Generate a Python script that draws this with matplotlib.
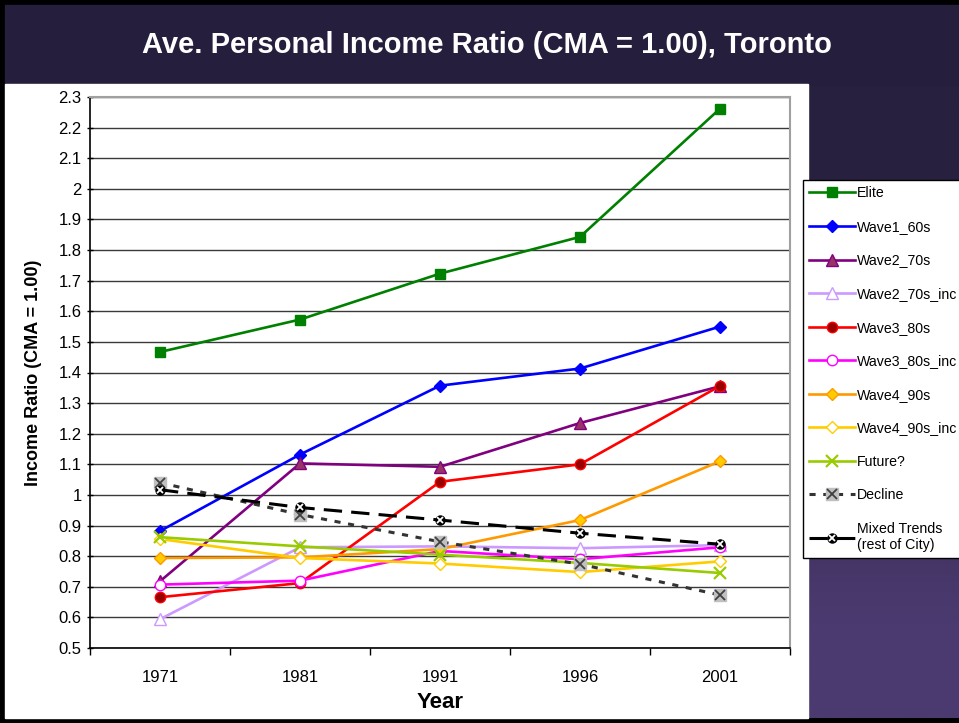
import numpy as np
import matplotlib
matplotlib.use("Agg")
import matplotlib.pyplot as plt
from matplotlib.patches import Rectangle
from matplotlib.legend_handler import HandlerTuple

plt.rcParams['font.family'] = ['Liberation Sans', 'DejaVu Sans']

# data
years = ['1971', '1981', '1991', '1996', '2001']
elite = [1.467, 1.573, 1.723, 1.843, 2.262]
wave1_60s = [0.882, 1.132, 1.357, 1.413, 1.550]
wave2_70s = [0.718, 1.103, 1.092, 1.235, 1.355]
wave2_70s_inc = [0.594, 0.829, 0.832, 0.826, 0.836]
wave3_80s = [0.666, 0.712, 1.043, 1.100, 1.356]
wave3_80s_inc = [0.707, 0.720, 0.817, 0.790, 0.829]
wave4_90s = [0.794, 0.796, 0.823, 0.918, 1.110]
wave4_90s_inc = [0.856, 0.794, 0.776, 0.748, 0.783]
future = [0.862, 0.832, 0.805, 0.778, 0.745]
decline = [1.040, 0.936, 0.847, 0.774, 0.673]
mixed = [1.017, 0.959, 0.918, 0.875, 0.839]

W, H = 959, 723
fig = plt.figure(figsize=(W / 100, H / 100), dpi=100, facecolor='black')

# background panels
bg = fig.add_axes([0, 0, 1, 1], zorder=-10)
bg.axis('off')
bg.add_patch(Rectangle((5, 5), W - 5, 80, color='#261E3D'))
bg.add_patch(Rectangle((5, 84), 803, 634, color='white'))
grad = np.linspace(0, 1, 256).reshape(-1, 1)
grad = np.clip((grad - 0.25) / 0.6, 0, 1)
c0 = np.array([40, 32, 63]) / 255
c1 = np.array([75, 58, 111]) / 255
img = c0 + grad[..., None] * (c1 - c0)
img = np.repeat(img, 2, axis=1)
bg.imshow(img, extent=(808, W, 718, 84), aspect='auto')
bg.set_xlim(0, W)
bg.set_ylim(H, 0)
bg.text(487, 45, 'Ave. Personal Income Ratio (CMA = 1.00), Toronto', color='white',
        fontsize=21, fontweight='bold', ha='center', va='center')

ax = fig.add_axes([90 / W, 1 - 648 / H, 700 / W, 551 / H])
x = np.arange(len(years))

lw = 1.9
handles = []
handles.append(ax.plot(x, elite, color='#008000', lw=lw, marker='s', ms=7, mfc='#008000', mec='#008000')[0])
handles.append(ax.plot(x, wave1_60s, color='#0000FF', lw=lw, marker='D', ms=6, mfc='#0000FF', mec='#0000FF')[0])
handles.append(ax.plot(x, wave2_70s, color='#800080', lw=lw, marker='^', ms=8, mfc='#993366', mec='#800080')[0])
handles.append(ax.plot(x, wave2_70s_inc, color='#CC99FF', lw=lw, marker='^', ms=8, mfc='white', mec='#CC99FF')[0])
handles.append(ax.plot(x, wave3_80s, color='#FF0000', lw=lw, marker='o', ms=7.5, mfc='#990000', mec='#FF0000')[0])
handles.append(ax.plot(x, wave3_80s_inc, color='#FF00FF', lw=lw, marker='o', ms=7.5, mfc='white', mec='#FF00FF')[0])
handles.append(ax.plot(x, wave4_90s, color='#FF9900', lw=lw, marker='D', ms=6, mfc='#FFCC00', mec='#FF9900')[0])
handles.append(ax.plot(x, wave4_90s_inc, color='#FFCC00', lw=lw, marker='D', ms=6, mfc='white', mec='#FFCC00')[0])
handles.append(ax.plot(x, future, color='#99CC00', lw=lw, marker='x', ms=8, mew=1.6, mec='#99CC00')[0])

d1 = ax.plot(x, decline, color='#333333', lw=2.2, ls=(0, (2, 2.5)), marker='s', ms=8,
             mfc='#C0C0C0', mec='#C0C0C0')[0]
d2 = ax.plot(x, decline, ls='none', marker='x', ms=7.5, mec='#404040', mew=1.3)[0]
handles.append((d1, d2))
m1 = ax.plot(x, mixed, color='black', lw=2.2, ls=(0, (6, 3)), marker='o', ms=6.5,
             mfc='black', mec='black')[0]
m2 = ax.plot(x, mixed, ls='none', marker='x', ms=5, mec='white', mew=1.3)[0]
handles.append((m1, m2))

labels = ['Elite', 'Wave1_60s', 'Wave2_70s', 'Wave2_70s_inc', 'Wave3_80s', 'Wave3_80s_inc',
          'Wave4_90s', 'Wave4_90s_inc', 'Future?', 'Decline', 'Mixed Trends\n(rest of City)']

ax.set_xlim(-0.5, len(years) - 0.5)
ax.set_ylim(0.5, 2.3)
yt = np.round(np.arange(0.5, 2.31, 0.1), 1)
ax.set_yticks(yt)
ax.set_yticklabels([('%g' % v) for v in yt], fontsize=12)
ax.set_xticks(np.arange(-0.5, len(years)), labels=[''] * (len(years) + 1))
ax.set_xticks(x, labels=years, minor=True, fontsize=12)
ax.tick_params(axis='x', which='minor', length=0, pad=16)
ax.tick_params(axis='x', which='major', length=5, direction='out', width=1)
ax.tick_params(axis='y', length=5, direction='inout', width=1)
ax.grid(axis='y', color='#3a3a3a', lw=1)
ax.set_axisbelow(True)
for s in ['top', 'right']:
    ax.spines[s].set_color('#A0A0A0')
    ax.spines[s].set_linewidth(1.5)
for s in ['left', 'bottom']:
    ax.spines[s].set_color('black')
    ax.spines[s].set_linewidth(1.2)

ax.set_xlabel('Year', fontsize=16, fontweight='bold', labelpad=5)
ax.set_ylabel('Income Ratio (CMA = 1.00)', fontsize=13, fontweight='bold', labelpad=12)

leg = fig.legend(handles, labels, loc='upper left',
                 bbox_to_anchor=(803 / W, 1 - 180 / H), fontsize=10.2,
                 frameon=True, fancybox=False, framealpha=1, edgecolor='black',
                 labelspacing=1.38, handlelength=3.2, handletextpad=0.15,
                 borderpad=0.45, borderaxespad=0,
                 handler_map={tuple: HandlerTuple(ndivide=1, pad=0)})
leg.get_frame().set_linewidth(1)

fig.savefig('out.png', dpi=100, facecolor='black')
